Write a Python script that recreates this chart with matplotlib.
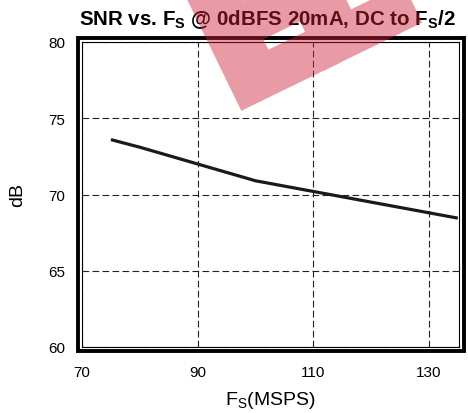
import matplotlib.pyplot as plt
import matplotlib.patheffects as pe
from matplotlib.patches import Rectangle

plt.rcParams['font.family'] = ['Liberation Sans', 'DejaVu Sans']
plt.rcParams['mathtext.fontset'] = 'custom'
plt.rcParams['mathtext.rm'] = 'Liberation Sans'
plt.rcParams['mathtext.bf'] = 'Liberation Sans:bold'
plt.rcParams['mathtext.sf'] = 'DejaVu Sans:bold'

# SNR against sample rate
fs_msps = [75, 80, 90, 100, 110, 120, 135]
snr_db = [73.6, 73.1, 72.0, 70.9, 70.2, 69.5, 68.45]

x_ticks = [70, 90, 110, 130]
y_ticks = [60, 65, 70, 75, 80]

W, H = 468, 414
fig = plt.figure(figsize=(W / 100, H / 100), dpi=100)
ax = fig.add_axes([82 / W, 1 - 348 / H, (459 - 82) / W, (348 - 43) / H])

ax.plot(fs_msps, snr_db, color='#1a1a1a', lw=2.3, solid_capstyle='butt')

ax.set_xlim(70, 135.2)
ax.set_ylim(60, 80)
ax.set_xticks(x_ticks)
ax.set_yticks(y_ticks)
ax.tick_params(length=0, labelsize=11)
ax.tick_params(axis='x', pad=13)
ax.tick_params(axis='y', pad=12)
ax.grid(True, color='#222222', lw=0.8, ls=(0, (6, 3)))
for s in ax.spines.values():
    s.set_linewidth(0.8)

ax.set_xlabel(r'$\mathrm{F_S}$(MSPS)', fontsize=14, labelpad=7)
ax.set_ylabel('dB', fontsize=14, labelpad=16)
fig.text(267 / W, 1 - 20 / H,
         r'SNR vs. $\mathbf{F_S}$ @ 0dBFS 20mA, DC to $\mathbf{F_S}$/2',
         ha='center', va='center', fontsize=14.8, fontweight='bold')

# heavy outer frame around the plot area
fig.patches.append(Rectangle((78 / W, 1 - 352 / H), (464 - 78) / W, (352 - 38.5) / H,
                             transform=fig.transFigure, fill=False,
                             lw=2.8, ec='black', zorder=5))


def fade(im, dpi):
    # make the whole watermark uniformly see-through
    im = im.copy()
    im[..., 3] *= 0.45
    return im, 0, 0


# red watermark, letters pulled together, fattened with a stroke, faded as one layer
wm = fig.text(231 / W, 1 - 107 / H, r'$\mathsf{E}\!\mathsf{E}$', rotation=26,
              rotation_mode='anchor', ha='left', va='baseline', fontsize=127,
              color='#ce2136', zorder=10)
wm.set_path_effects([pe.Stroke(linewidth=13, foreground='#ce2136', joinstyle='miter'),
                     pe.Normal()])
wm.set_agg_filter(fade)

fig.savefig('out.png', dpi=100)
